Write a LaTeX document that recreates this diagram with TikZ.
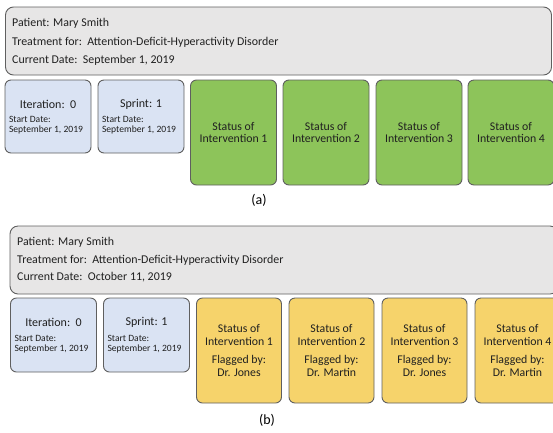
\documentclass[tikz,border=0pt]{standalone}
\usepackage{fontspec}
\setmainfont{Carlito}
\definecolor{greyfill}{HTML}{E7E6E6}
\definecolor{edge}{HTML}{5F5F5F}
\definecolor{bluefill}{HTML}{DAE3F3}
\definecolor{greenfill}{HTML}{8DC45A}
\definecolor{yellowfill}{HTML}{F6D36B}
\definecolor{txt}{HTML}{202020}
\tikzset{
  box/.style={draw=edge, line width=0.9pt, rounded corners=6pt, inner sep=0pt},
  headbox/.style={box, fill=greyfill, rounded corners=8pt},
  infobox/.style={box, fill=bluefill, minimum width=86pt, minimum height=73pt},
  greenbox/.style={box, fill=greenfill, minimum width=86pt, minimum height=105pt},
  yellowbox/.style={box, fill=yellowfill, minimum width=85pt, minimum height=105pt},
  headtxt/.style={anchor=west, font=\fontsize{11.9}{13}\selectfont, text=txt, inner sep=0pt},
  ttl/.style={font=\fontsize{12}{13}\selectfont, text=txt, inner sep=0pt},
  small/.style={font=\fontsize{9.6}{9.8}\selectfont, text=txt, align=left, inner sep=0pt},
  stat/.style={font=\fontsize{11.8}{12.8}\selectfont, text=txt, align=center, inner sep=0pt},
  captxt/.style={font=\fontsize{14}{16}\selectfont, text=black, inner sep=0pt}
}
\begin{document}
\begin{tikzpicture}[x=1pt,y=-1pt]
\useasboundingbox (0,0) rectangle (553,432);
\clip (0,0) rectangle (553,432);
% ---------- (a) ----------
\node[headbox, minimum width=546pt, minimum height=68pt] (ha) at (278.5,41) {};
\node[headtxt] (pa) at (12,23) {Patient: Mary Smith};
\node[headtxt] (ta) at (12,42) {Treatment for:\ \ Attention-Deficit-Hyperactivity Disorder};
\node[headtxt] (ca) at (12,60) {Current Date:\ \ September 1, 2019};
\node[infobox] (ia) at (48,116.5) {};
\node[ttl] (iat) at (48,104) {Iteration:\ \ 0};
\node[small] (ias) at (46,125.5) {Start Date:\\September 1, 2019};
\node[infobox] (sa) at (141,116.5) {};
\node[ttl] (sat) at (141,104) {Sprint: 1};
\node[small] (sas) at (139,125.5) {Start Date:\\September 1, 2019};
\node[greenbox] (g1) at (233.5,132.5) {};
\node[stat] at (g1) {Status of\\Intervention 1};
\node[greenbox] (g2) at (326,132.5) {};
\node[stat] at (g2) {Status of\\Intervention 2};
\node[greenbox] (g3) at (419,132.5) {};
\node[stat] at (g3) {Status of\\Intervention 3};
\node[greenbox] (g4) at (511,132.5) {};
\node[stat] at (g4) {Status of\\Intervention 4};
\node[captxt] (la) at (259,200) {(a)};
% ---------- (b) ----------
\node[headbox, minimum width=548pt, minimum height=68pt] (hb) at (284,260) {};
\node[headtxt] (pb) at (17,242) {Patient: Mary Smith};
\node[headtxt] (tb) at (17,260) {Treatment for:\ \ Attention-Deficit-Hyperactivity Disorder};
\node[headtxt] (cb) at (17,277) {Current Date:\ \ October 11, 2019};
\node[infobox, minimum height=74pt] (ib) at (53.5,335) {};
\node[ttl] (ibt) at (53.5,322.5) {Iteration:\ \ 0};
\node[small] (ibs) at (51.5,344) {Start Date:\\September 1, 2019};
\node[infobox, minimum height=74pt] (sb) at (146.5,335) {};
\node[ttl] (sbt) at (146.5,322.5) {Sprint: 1};
\node[small] (sbs) at (144.5,344) {Start Date:\\September 1, 2019};
\node[yellowbox] (y1) at (239,350.5) {};
\node[stat] at (y1) {Status of\\Intervention 1\\[5pt]Flagged by:\\Dr. Jones};
\node[yellowbox] (y2) at (331.5,350.5) {};
\node[stat] at (y2) {Status of\\Intervention 2\\[5pt]Flagged by:\\Dr. Martin};
\node[yellowbox] (y3) at (424.5,350.5) {};
\node[stat] at (y3) {Status of\\Intervention 3\\[5pt]Flagged by:\\Dr. Jones};
\node[yellowbox] (y4) at (517.5,350.5) {};
\node[stat] at (y4) {Status of\\Intervention 4\\[5pt]Flagged by:\\Dr. Martin};
\node[captxt] (lb) at (267,420) {(b)};
\end{tikzpicture}
\end{document}
